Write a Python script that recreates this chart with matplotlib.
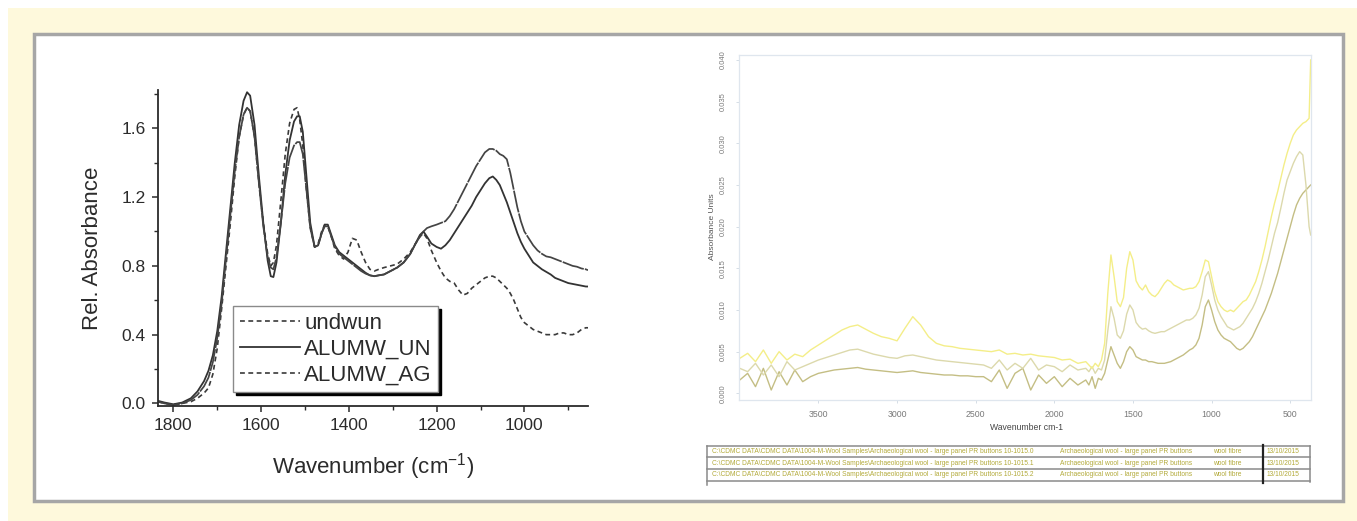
import numpy as np
import matplotlib.pyplot as plt
from matplotlib.patches import Rectangle
from matplotlib.lines import Line2D

plt.rcParams['font.family'] = ['Liberation Sans', 'DejaVu Sans']
plt.rcParams['mathtext.default'] = 'regular'
plt.rcParams['lines.scale_dashes'] = False

W, H = 1357, 521

# ---- left panel: relative absorbance spectra ----
wn = [1835, 1820, 1800, 1780, 1760, 1745, 1730, 1720, 1710, 1700,
      1690, 1680, 1670, 1660, 1650, 1640, 1632, 1625, 1615, 1605,
      1595, 1585, 1578, 1572, 1565, 1555, 1545, 1535, 1525, 1518,
      1512, 1505, 1497, 1488, 1478, 1470, 1462, 1455, 1448, 1440,
      1432, 1422, 1412, 1402, 1392, 1382, 1372, 1362, 1352, 1342,
      1332, 1320, 1305, 1290, 1275, 1260, 1248, 1238, 1230, 1222,
      1212, 1200, 1190, 1180, 1170, 1160, 1150, 1140, 1130, 1120,
      1110, 1100, 1090, 1080, 1072, 1064, 1056, 1048, 1040, 1032,
      1024, 1016, 1008, 1000, 990, 980, 970, 960, 950, 940,
      930, 920, 910, 900, 890, 880, 870, 860, 855]

undwun = [0.01, 0.00, -0.005, 0.00, 0.01, 0.03, 0.06, 0.09, 0.17, 0.32,
          0.55, 0.80, 1.05, 1.32, 1.55, 1.68, 1.72, 1.70, 1.55, 1.28,
          1.05, 0.87, 0.80, 0.82, 0.92, 1.18, 1.45, 1.63, 1.71, 1.72,
          1.65, 1.50, 1.25, 1.02, 0.91, 0.93, 1.00, 1.04, 1.03, 0.97,
          0.90, 0.86, 0.84, 0.88, 0.96, 0.95, 0.88, 0.82, 0.78, 0.77,
          0.78, 0.79, 0.80, 0.81, 0.84, 0.88, 0.93, 0.97, 0.99, 0.96,
          0.89, 0.82, 0.77, 0.73, 0.71, 0.70, 0.66, 0.63, 0.64, 0.67,
          0.69, 0.71, 0.73, 0.74, 0.74, 0.73, 0.71, 0.69, 0.67, 0.64,
          0.60, 0.55, 0.50, 0.47, 0.45, 0.43, 0.42, 0.41, 0.40, 0.40,
          0.40, 0.41, 0.41, 0.40, 0.40, 0.41, 0.43, 0.44, 0.44]

alumw_un = [0.015, 0.005, -0.005, 0.005, 0.03, 0.07, 0.13, 0.19, 0.28, 0.42,
            0.62, 0.88, 1.14, 1.40, 1.62, 1.76, 1.81, 1.79, 1.62, 1.32,
            1.05, 0.83, 0.74, 0.735, 0.82, 1.05, 1.33, 1.53, 1.64, 1.67,
            1.67, 1.58, 1.33, 1.05, 0.91, 0.92, 0.99, 1.04, 1.04, 0.98,
            0.92, 0.88, 0.86, 0.84, 0.82, 0.80, 0.78, 0.76, 0.745, 0.74,
            0.745, 0.75, 0.77, 0.79, 0.82, 0.87, 0.93, 0.98, 1.00, 0.97,
            0.93, 0.91, 0.90, 0.92, 0.95, 0.99, 1.03, 1.07, 1.11, 1.15,
            1.20, 1.24, 1.28, 1.31, 1.32, 1.30, 1.27, 1.22, 1.17, 1.11,
            1.05, 0.99, 0.94, 0.90, 0.86, 0.82, 0.80, 0.78, 0.765, 0.75,
            0.73, 0.72, 0.71, 0.70, 0.695, 0.69, 0.685, 0.68, 0.68]

alumw_ag = [0.01, 0.00, -0.01, 0.00, 0.02, 0.05, 0.10, 0.15, 0.24, 0.38,
            0.58, 0.84, 1.10, 1.35, 1.55, 1.68, 1.72, 1.70, 1.55, 1.28,
            1.03, 0.85, 0.79, 0.78, 0.85, 1.05, 1.28, 1.43, 1.50, 1.52,
            1.52, 1.45, 1.25, 1.02, 0.91, 0.92, 0.99, 1.03, 1.03, 0.97,
            0.91, 0.87, 0.85, 0.83, 0.81, 0.79, 0.77, 0.755, 0.745, 0.74,
            0.745, 0.75, 0.77, 0.79, 0.82, 0.87, 0.93, 0.97, 1.00, 1.02,
            1.03, 1.04, 1.05, 1.06, 1.09, 1.13, 1.18, 1.23, 1.28, 1.33,
            1.38, 1.42, 1.46, 1.48, 1.48, 1.47, 1.45, 1.44, 1.42, 1.34,
            1.24, 1.14, 1.06, 1.00, 0.96, 0.92, 0.89, 0.87, 0.855, 0.85,
            0.84, 0.83, 0.82, 0.81, 0.80, 0.795, 0.785, 0.78, 0.775]

labels = ['undwun', 'ALUMW_UN', 'ALUMW_AG']

# ---- right panel: absorbance units spectra ----
wn_r = list(range(4000, 1799, -50)) + list(range(1780, 379, -20)) + [370]

spec1 = [0.0042, 0.0048, 0.0038, 0.0052, 0.0036, 0.0050, 0.0040, 0.0047, 0.0044,
         0.0052, 0.0058, 0.0064, 0.0070, 0.0076, 0.0080, 0.0082, 0.0077, 0.0072,
         0.0068, 0.0066, 0.0063, 0.0078, 0.0092, 0.0082, 0.0068, 0.0060, 0.0057,
         0.0056, 0.0054, 0.0053, 0.0052, 0.0051, 0.0050, 0.0052, 0.0047, 0.0048,
         0.0046, 0.0047, 0.0045, 0.0044, 0.0043, 0.0040, 0.0041, 0.0036, 0.0038,
         0.0034, 0.0030, 0.0036, 0.0032, 0.0040, 0.0060, 0.0120, 0.0166, 0.0140, 0.0110,
         0.0104, 0.0115, 0.0150, 0.0170, 0.0160, 0.0135, 0.0128, 0.0124, 0.0130, 0.0122,
         0.0118, 0.0116, 0.0120, 0.0126, 0.0132, 0.0136, 0.0134, 0.0130, 0.0128, 0.0126,
         0.0124, 0.0125, 0.0126, 0.0126, 0.0128, 0.0134, 0.0146, 0.0160, 0.0158, 0.0140,
         0.0122, 0.0110, 0.0104, 0.0100, 0.0098, 0.0100, 0.0098, 0.0102, 0.0106, 0.0110,
         0.0112, 0.0118, 0.0126, 0.0134, 0.0146, 0.0160, 0.0176, 0.0194, 0.0212, 0.0228,
         0.0242, 0.0258, 0.0274, 0.0288, 0.0300, 0.0310, 0.0316, 0.0320, 0.0324, 0.0326,
         0.0330, 0.0400]

spec2 = [0.0030, 0.0026, 0.0036, 0.0022, 0.0034, 0.0020, 0.0038, 0.0028, 0.0032,
         0.0036, 0.0040, 0.0043, 0.0046, 0.0049, 0.0052, 0.0053, 0.0050, 0.0047,
         0.0045, 0.0043, 0.0042, 0.0045, 0.0046, 0.0044, 0.0042, 0.0040, 0.0039,
         0.0038, 0.0037, 0.0036, 0.0035, 0.0034, 0.0030, 0.0040, 0.0028, 0.0036,
         0.0030, 0.0042, 0.0028, 0.0034, 0.0032, 0.0026, 0.0034, 0.0028, 0.0030,
         0.0026, 0.0032, 0.0024, 0.0030, 0.0028, 0.0040, 0.0075, 0.0104, 0.0090, 0.0070,
         0.0066, 0.0075, 0.0095, 0.0106, 0.0100, 0.0085, 0.0080, 0.0077, 0.0078, 0.0075,
         0.0073, 0.0072, 0.0073, 0.0074, 0.0074, 0.0076, 0.0078, 0.0080, 0.0082, 0.0084,
         0.0086, 0.0088, 0.0088, 0.0090, 0.0094, 0.0102, 0.0118, 0.0140, 0.0146, 0.0130,
         0.0112, 0.0100, 0.0092, 0.0086, 0.0080, 0.0078, 0.0076, 0.0078, 0.0080, 0.0084,
         0.0090, 0.0096, 0.0102, 0.0110, 0.0120, 0.0132, 0.0146, 0.0160, 0.0176, 0.0192,
         0.0205, 0.0222, 0.0240, 0.0256, 0.0266, 0.0276, 0.0284, 0.0290, 0.0286, 0.0250,
         0.0200, 0.0190]

spec3 = [0.0016, 0.0024, 0.0008, 0.0030, 0.0004, 0.0026, 0.0010, 0.0028, 0.0014,
         0.0020, 0.0024, 0.0026, 0.0028, 0.0029, 0.0030, 0.0031, 0.0029, 0.0028,
         0.0027, 0.0026, 0.0025, 0.0026, 0.0027, 0.0025, 0.0024, 0.0023, 0.0022,
         0.0022, 0.0021, 0.0021, 0.0020, 0.0020, 0.0014, 0.0028, 0.0006, 0.0024,
         0.0030, 0.0004, 0.0022, 0.0012, 0.0020, 0.0008, 0.0018, 0.0010, 0.0016,
         0.0010, 0.0020, 0.0006, 0.0018, 0.0016, 0.0024, 0.0040, 0.0056, 0.0046, 0.0036,
         0.0030, 0.0038, 0.0050, 0.0056, 0.0052, 0.0044, 0.0042, 0.0040, 0.0040, 0.0038,
         0.0038, 0.0037, 0.0036, 0.0036, 0.0036, 0.0037, 0.0038, 0.0040, 0.0042, 0.0044,
         0.0046, 0.0049, 0.0052, 0.0054, 0.0058, 0.0066, 0.0082, 0.0104, 0.0112, 0.0100,
         0.0086, 0.0076, 0.0070, 0.0066, 0.0064, 0.0062, 0.0058, 0.0054, 0.0052, 0.0054,
         0.0058, 0.0062, 0.0068, 0.0076, 0.0084, 0.0092, 0.0100, 0.0110, 0.0120, 0.0132,
         0.0144, 0.0158, 0.0172, 0.0186, 0.0200, 0.0214, 0.0226, 0.0234, 0.0240, 0.0244,
         0.0248, 0.0250]

spec_colors = ['#f4ee88', '#dcd9ac', '#c4be84']

file_names = ['C:\\CDMC DATA\\CDMC DATA\\1004-M-Wool Samples\\Archaeological wool - large panel PR buttons 10-1015.0',
              'C:\\CDMC DATA\\CDMC DATA\\1004-M-Wool Samples\\Archaeological wool - large panel PR buttons 10-1015.1',
              'C:\\CDMC DATA\\CDMC DATA\\1004-M-Wool Samples\\Archaeological wool - large panel PR buttons 10-1015.2']
sample_names = ['Archaeological wool - large panel PR buttons'] * 3
sample_forms = ['wool fibre'] * 3
dates = ['13/10/2015'] * 3

fig = plt.figure(figsize=(W / 100, H / 100), dpi=100)
fig.patch.set_facecolor('white')

# background frame drawn in pixel coordinates
bg = fig.add_axes([0, 0, 1, 1])
bg.set_xlim(0, W)
bg.set_ylim(H, 0)
bg.axis('off')
bg.add_patch(Rectangle((8, 8), W - 8, H - 8, facecolor='#fef9dc', edgecolor='none'))
bg.add_patch(Rectangle((34, 34), 1308.5, 466.5, facecolor='white', edgecolor='#a6a6a6', linewidth=2.5))

# table under the right chart
tx0, tx1, tdiv = 706.7, 1310, 1263.3
rows_y = [445.7, 457.3, 469.0, 480.7]
for yy in rows_y:
    bg.plot([tx0, tx1], [yy, yy], color='#8a8a8a', lw=1.1)
bg.plot([tx0, tx0], [rows_y[0], 485], color='#8a8a8a', lw=1.1)
bg.plot([tx1, tx1], [rows_y[0], 482], color='#8a8a8a', lw=1.1)
bg.plot([tdiv, tdiv], [rows_y[0] - 1, 483], color='#222222', lw=1.6)
for i in range(3):
    yc = (rows_y[i] + rows_y[i + 1]) / 2
    kw = dict(fontsize=4.75, color='#b3aa3a', va='center', ha='left')
    bg.text(712, yc, file_names[i], **kw)
    bg.text(1060, yc, sample_names[i], **kw)
    bg.text(1213, yc, sample_forms[i], **kw)
    bg.text(1267, yc, dates[i], **kw)

bg.text(1026, 427, 'Wavenumber cm-1', fontsize=6.2, color='#444444', ha='center', va='center')
bg.text(712, 227, 'Absorbance Units', fontsize=6.0, color='#555555', ha='center', va='center', rotation=90)

# ---- left chart ----
ax = fig.add_axes([158 / W, 1 - 406 / H, 430 / W, 316 / H])
ax.patch.set_alpha(0)
ink = '#2b2b2b'
ax.plot(wn, undwun, color='#3a3a3a', lw=1.2, dashes=(3.5, 2.5))
ax.plot(wn, alumw_un, color='#333333', lw=1.3)
ax.plot(wn, alumw_ag, color='#444444', lw=1.25, dashes=(16, 0.8))

ax.set_xlim(1835, 855)
ax.set_ylim(-0.015, 1.823)
ax.set_xticks([1800, 1600, 1400, 1200, 1000])
ax.set_xticks([1700, 1500, 1300, 1100, 900], minor=True)
ax.set_yticks([0.0, 0.4, 0.8, 1.2, 1.6])
ax.set_yticks([0.2, 0.6, 1.0, 1.4, 1.8], minor=True)
ax.set_yticklabels(['0.0', '0.4', '0.8', '1.2', '1.6'])
for s in ['top', 'right']:
    ax.spines[s].set_visible(False)
for s in ['left', 'bottom']:
    ax.spines[s].set_linewidth(1.3)
    ax.spines[s].set_color(ink)
ax.tick_params(which='major', direction='out', length=4, width=1.1, color=ink,
               labelsize=12.5, labelcolor=ink, pad=5)
ax.tick_params(which='minor', direction='out', length=3, width=1.0, color=ink)
ax.set_xlabel('Wavenumber (cm$^{-1}$)', fontsize=16, color=ink)
ax.set_ylabel('Rel. Absorbance', fontsize=16, color=ink)
ax.xaxis.set_label_coords(0.5, -0.142)
ax.yaxis.set_label_coords(-0.128, 0.5)

handles = [Line2D([], [], color='#3a3a3a', lw=1.2, dashes=(3.5, 2.5)),
           Line2D([], [], color='#333333', lw=1.3),
           Line2D([], [], color='#3a3a3a', lw=1.2, dashes=(3.5, 2.5))]
leg = ax.legend(handles, labels, loc='upper left', bbox_to_anchor=(233 / W, 1 - 306 / H),
                bbox_transform=fig.transFigure, borderaxespad=0, fancybox=False,
                shadow={'color': 'black', 'alpha': 1}, framealpha=1,
                edgecolor='#8a8a8a', fontsize=16, handlelength=2.7,
                handletextpad=0.2, labelspacing=0.22, borderpad=0.3)
leg.get_frame().set_linewidth(1.0)
for t in leg.get_texts():
    t.set_color(ink)

# ---- right chart ----
ax2 = fig.add_axes([739.3 / W, 1 - 400 / H, 572 / W, 344.7 / H])
ax2.patch.set_alpha(0)
for ys, c in zip([spec3, spec2, spec1], spec_colors[::-1]):
    ax2.plot(wn_r, ys, color=c, lw=1.0)
ax2.set_xlim(4003, 366)
ax2.set_ylim(-0.0008, 0.04056)
ax2.set_xticks([3500, 3000, 2500, 2000, 1500, 1000, 500])
ax2.set_yticks(np.arange(0, 0.0401, 0.005))
ax2.set_yticklabels(['%.3f' % v for v in np.arange(0, 0.0401, 0.005)])
for s in ax2.spines.values():
    s.set_color('#dfe6ee')
    s.set_linewidth(0.9)
ax2.tick_params(axis='both', length=2, width=0.6, color='#cfd8e2', labelcolor='#7a7a7a')
ax2.tick_params(axis='x', labelsize=6.3, pad=5)
ax2.tick_params(axis='y', labelsize=5.5, pad=7)
for lab in ax2.get_yticklabels():
    lab.set_rotation(90)
    lab.set_va('center')

fig.savefig('out.png', dpi=100)
